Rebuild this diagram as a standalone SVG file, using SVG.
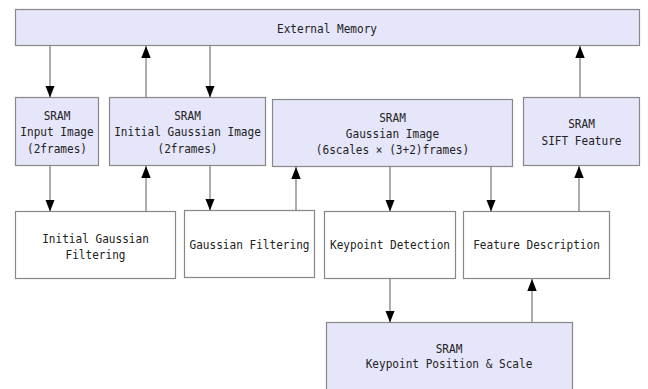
<svg xmlns="http://www.w3.org/2000/svg" width="648" height="389" viewBox="0 0 648 389">
  <defs>
    <marker id="arrow" markerUnits="userSpaceOnUse" markerWidth="12" markerHeight="15" refX="14" refY="5.5" orient="auto" viewBox="0 0 14 11">
      <path d="M0,0 L14,5.5 L0,11 Z" fill="#000"/>
    </marker>
  </defs>
  <style>
    .sram { fill: #e6e6fa; stroke: #888; stroke-width: 1.2; }
    .proc { fill: #fff; stroke: #888; stroke-width: 1.2; }
    text { font-family: "DejaVu Sans Mono", "Liberation Mono", monospace; font-size: 12.5px; fill: #222; text-anchor: middle; dominant-baseline: central; }
    .conn line { stroke: #777; stroke-width: 1.2; marker-end: url(#arrow); }
  </style>
  <rect width="648" height="389" fill="#fff"/>

  <!-- narrow mono labels: each line squeezed to 6.67px per character -->
  <g id="external-memory">
    <rect class="sram" x="15.5" y="9.5" width="624" height="36"/>
    <text x="327" y="28" textLength="100" lengthAdjust="spacingAndGlyphs">External Memory</text>
  </g>

  <g id="sram-input-image">
    <rect class="sram" x="15.5" y="97.5" width="83" height="68"/>
    <text x="57" y="115" textLength="26.7" lengthAdjust="spacingAndGlyphs">SRAM</text>
    <text x="57" y="131.5" textLength="73.3" lengthAdjust="spacingAndGlyphs">Input Image</text>
    <text x="57" y="148" textLength="60" lengthAdjust="spacingAndGlyphs">(2frames)</text>
  </g>

  <g id="sram-initial-gaussian-image">
    <rect class="sram" x="109.5" y="97.5" width="156" height="68"/>
    <text x="187.5" y="115" textLength="26.7" lengthAdjust="spacingAndGlyphs">SRAM</text>
    <text x="187.5" y="131.5" textLength="146.7" lengthAdjust="spacingAndGlyphs">Initial Gaussian Image</text>
    <text x="187.5" y="148" textLength="60" lengthAdjust="spacingAndGlyphs">(2frames)</text>
  </g>

  <g id="sram-gaussian-image">
    <rect class="sram" x="272.5" y="99.5" width="240" height="67"/>
    <text x="392.5" y="117.5" textLength="26.7" lengthAdjust="spacingAndGlyphs">SRAM</text>
    <text x="392.5" y="133" textLength="93.3" lengthAdjust="spacingAndGlyphs">Gaussian Image</text>
    <text x="392.5" y="149" textLength="153.3" lengthAdjust="spacingAndGlyphs">(6scales × (3+2)frames)</text>
  </g>

  <g id="sram-sift-feature">
    <rect class="sram" x="523.5" y="97.5" width="116" height="68"/>
    <text x="581.5" y="123" textLength="26.7" lengthAdjust="spacingAndGlyphs">SRAM</text>
    <text x="581.5" y="140" textLength="80" lengthAdjust="spacingAndGlyphs">SIFT Feature</text>
  </g>

  <g id="initial-gaussian-filtering">
    <rect class="proc" x="15.5" y="211.5" width="160" height="67"/>
    <text x="95.5" y="238" textLength="106.7" lengthAdjust="spacingAndGlyphs">Initial Gaussian</text>
    <text x="95.5" y="254" textLength="60" lengthAdjust="spacingAndGlyphs">Filtering</text>
  </g>

  <g id="gaussian-filtering">
    <rect class="proc" x="184.5" y="210.5" width="130" height="67"/>
    <text x="249.5" y="244" textLength="120" lengthAdjust="spacingAndGlyphs">Gaussian Filtering</text>
  </g>

  <g id="keypoint-detection">
    <rect class="proc" x="324.5" y="211.5" width="131" height="67"/>
    <text x="390" y="244.5" textLength="120" lengthAdjust="spacingAndGlyphs">Keypoint Detection</text>
  </g>

  <g id="feature-description">
    <rect class="proc" x="463.5" y="211.5" width="146" height="67"/>
    <text x="536.5" y="244.5" textLength="126.7" lengthAdjust="spacingAndGlyphs">Feature Description</text>
  </g>

  <g id="sram-keypoint-position-scale">
    <rect class="sram" x="326.5" y="322.5" width="246" height="68"/>
    <text x="449" y="348" textLength="26.7" lengthAdjust="spacingAndGlyphs">SRAM</text>
    <text x="449" y="363.5" textLength="166.7" lengthAdjust="spacingAndGlyphs">Keypoint Position &amp; Scale</text>
  </g>

  <g class="conn" id="connectors">
    <line x1="50" y1="45.5" x2="50" y2="97.5"/>
    <line x1="146" y1="97.5" x2="146" y2="46"/>
    <line x1="210" y1="45.5" x2="210" y2="97.5"/>
    <line x1="580" y1="97.5" x2="580" y2="46"/>
    <line x1="50" y1="165.5" x2="50" y2="211.5"/>
    <line x1="146" y1="211.5" x2="146" y2="166"/>
    <line x1="210" y1="165.5" x2="210" y2="210.5"/>
    <line x1="296" y1="210.5" x2="296" y2="167"/>
    <line x1="390" y1="166.5" x2="390" y2="211.5"/>
    <line x1="491" y1="166.5" x2="491" y2="211.5"/>
    <line x1="579" y1="211.5" x2="579" y2="166"/>
    <line x1="390" y1="278.5" x2="390" y2="322.5"/>
    <line x1="532" y1="322.5" x2="532" y2="279"/>
  </g>
</svg>
